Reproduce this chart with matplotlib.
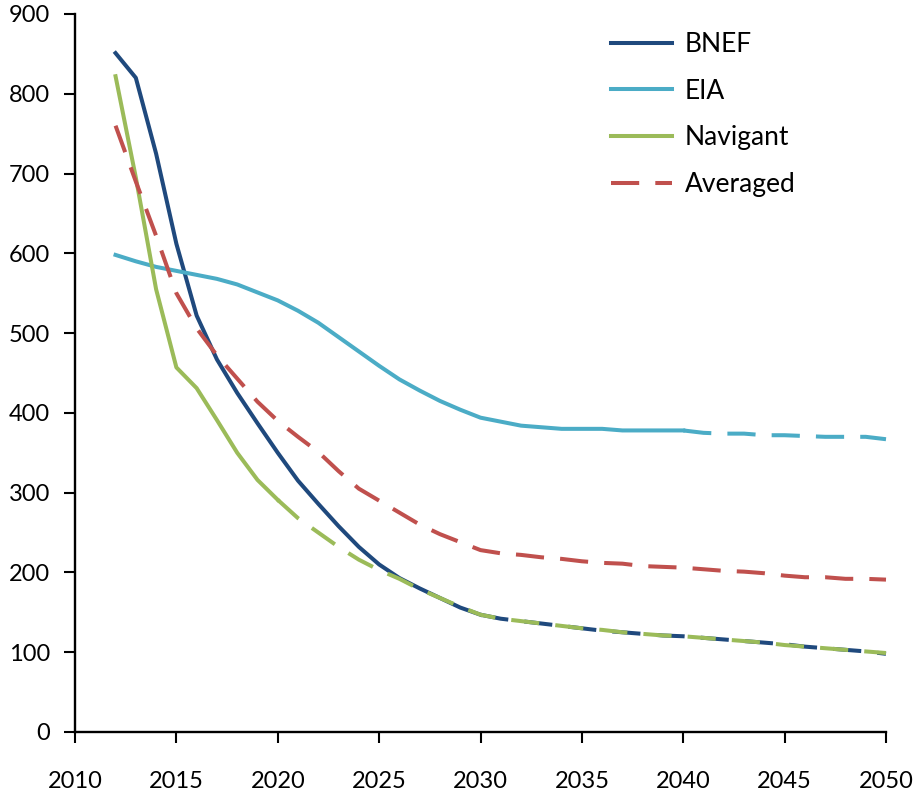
import matplotlib
matplotlib.use("Agg")
import matplotlib.pyplot as plt

plt.rcParams['font.family'] = ['Lato', 'DejaVu Sans']

years = list(range(2012, 2051))

bnef = [851, 820, 725, 612, 522, 467, 425, 387, 350, 315,
        286, 258, 232, 210, 193, 180, 168, 156, 147, 142,
        139, 136, 133, 130, 127, 125, 123, 121, 120, 118,
        116, 114, 112, 110, 107, 105, 103, 101, 98]

eia = [598, 590, 583, 578, 573, 568, 561, 551, 541, 528,
       513, 495, 477, 459, 442, 428, 415, 404, 394, 389,
       384, 382, 380, 380, 380, 378, 378, 378, 378, 375,
       374, 374, 372, 372, 371, 370, 370, 370, 367]

navigant = [822, 695, 555, 457, 431, 391, 350, 316, 291, 268,
            250, 232, 216, 203, 192, 179, 168, 157, 147, 142,
            139, 136, 133, 130, 128, 125, 123, 121, 120, 118,
            116, 114, 112, 109, 107, 105, 103, 101, 99]

averaged = [760, 690, 622, 550, 506, 472, 443, 414, 390, 370,
            351, 327, 305, 290, 275, 260, 248, 238, 228, 224,
            222, 219, 217, 214, 212, 211, 208, 207, 206, 204,
            202, 201, 199, 196, 194, 194, 192, 192, 191]

series = [
    ("BNEF", bnef, "#1F497D", 2030),
    ("EIA", eia, "#4BACC6", 2040),
    ("Navigant", navigant, "#9BBB59", 2020),
    ("Averaged", averaged, "#C0504D", 2012),
]

dash = (0, (7, 4))
lw = 2.9

fig = plt.figure(figsize=(9.19, 7.93), dpi=100)
ax = fig.add_axes([75 / 919, 1 - 732 / 793, 811 / 919, 718 / 793])

for name, vals, color, brk in series:
    i = years.index(brk)
    if i > 0:
        ax.plot(years[:i + 1], vals[:i + 1], color=color, lw=lw,
                solid_joinstyle='round', clip_on=False)
    ax.plot(years[i:], vals[i:], color=color, lw=lw, linestyle=dash,
            clip_on=False)

# Legende (Averaged gestrichelt, Rest durchgezogen)
handles = [plt.Line2D([], [], color=c, lw=lw,
                      linestyle=dash if n == "Averaged" else '-')
           for n, v, c, b in series]
leg = ax.legend(handles, [s[0] for s in series], loc='upper left',
                bbox_to_anchor=(611 / 919, 1 - 32 / 793),
                bbox_transform=fig.transFigure, frameon=False,
                fontsize=19, handlelength=2.3, handletextpad=0.5,
                labelspacing=0.82, borderaxespad=0, borderpad=0)

ax.set_xlim(2010, 2050)
ax.set_ylim(0, 900)
ax.set_xticks(range(2010, 2051, 5))
ax.set_yticks(range(0, 901, 100))

for s in ['top', 'right']:
    ax.spines[s].set_visible(False)
for s in ['left', 'bottom']:
    ax.spines[s].set_linewidth(1.7)

ax.tick_params(axis='both', direction='out', length=8, width=1.5,
               labelsize=17, colors='black')
ax.tick_params(axis='x', pad=20)
ax.tick_params(axis='y', pad=10)

fig.savefig("out.png", dpi=100)
